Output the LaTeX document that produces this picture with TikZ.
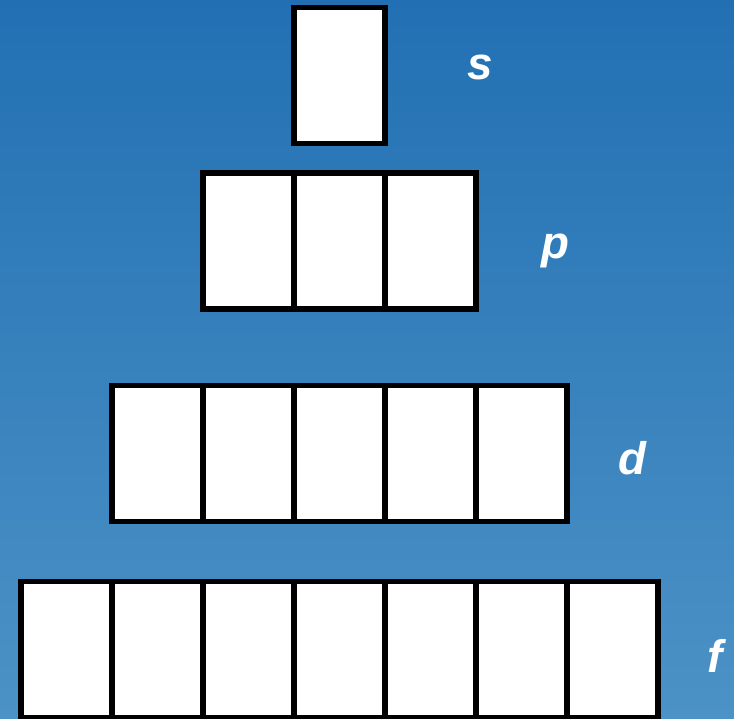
\documentclass[tikz,border=0pt]{standalone}
\usepackage{fontspec}
\setmainfont{Liberation Sans}
\usepackage{xcolor}
\definecolor{bgtop}{RGB}{34,112,179}
\definecolor{bgbottom}{RGB}{76,146,198}

\begin{document}
\begin{tikzpicture}[
    x=0.02cm, y=-0.02cm,
    cell/.style={rectangle, draw=black, fill=white, line width=2.9pt, minimum width=1.82cm, minimum height=2.72cm, inner sep=0pt},
    orblabel/.style={text=white, font=\fontsize{26}{30}\selectfont\bfseries\itshape, inner sep=0pt}
]

    % Background
    \fill[top color=bgtop, bottom color=bgbottom] (0,0) rectangle (734,719);
    \useasboundingbox (0,0) rectangle (734,719);

    % s orbital
    \node[cell] (s1) at (339.5,75.5) {};

    % p orbitals
    \foreach \i in {1,...,3}
        \node[cell] (p\i) at ({339.5+(\i-2)*91},241) {};

    % d orbitals
    \foreach \i in {1,...,5}
        \node[cell] (d\i) at ({339.5+(\i-3)*91},453.5) {};

    % f orbitals
    \foreach \i in {1,...,7}
        \node[cell] (f\i) at ({339.5+(\i-4)*91},649.5) {};

    % Labels
    \node[orblabel] (slabel) at (480,67) {s};
    \node[orblabel] (plabel) at (555,251) {p};
    \node[orblabel] (dlabel) at (632,458) {d};
    \node[orblabel] (flabel) at (715,656) {f};

\end{tikzpicture}
\end{document}
